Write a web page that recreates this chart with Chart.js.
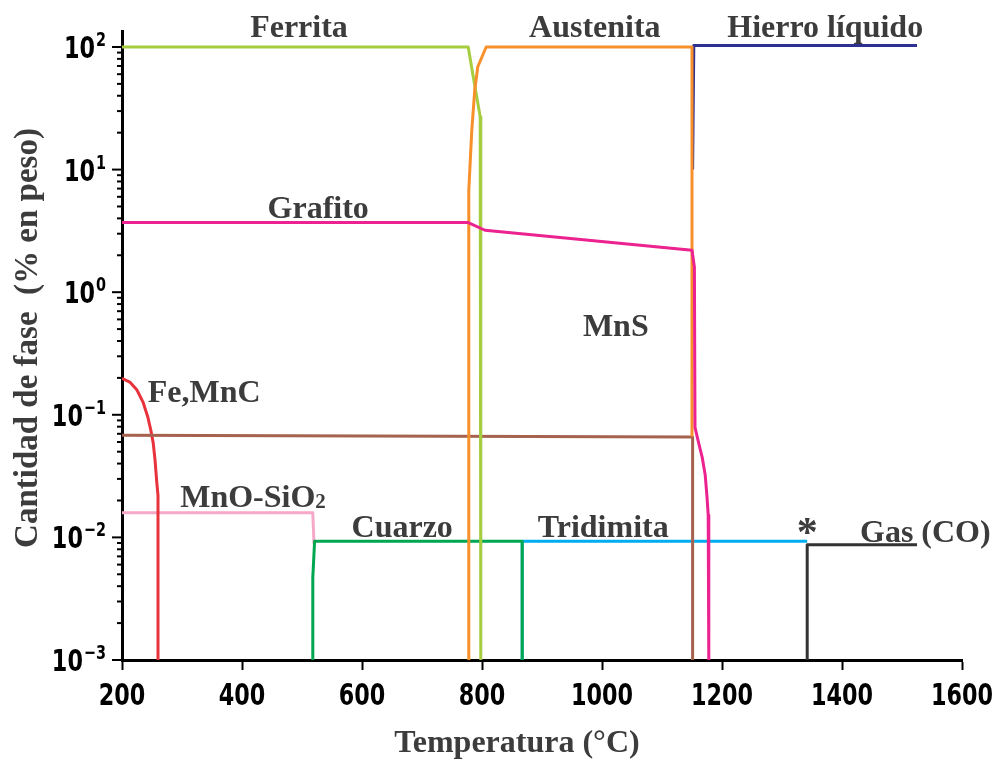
<!DOCTYPE html>
<html>
<head>
<meta charset="utf-8">
<script src="https://cdn.jsdelivr.net/npm/chart.js@4.4.0/dist/chart.umd.min.js"></script>
<style>
  html, body { margin: 0; padding: 0; background: #fff; }
</style>
</head>
<body>
<canvas id="chart" width="997" height="761"></canvas>
<script>
// Fases vs temperatura (°C), cantidad en % en peso
var ferritaT = [200, 777, 786, 797, 798];
var ferritaY = [100, 100, 55, 27, 0.001];

var austenitaT = [778, 778, 783, 788, 793, 807, 1150, 1150];
var austenitaY = [0.001, 6.8, 21, 45, 69, 100, 100, 0.068];

var hierroT = [1151, 1153, 1525];
var hierroY = [10, 103, 103];

var grafitoT = [200, 777, 805, 1150, 1154, 1155, 1160, 1167, 1172, 1175, 1177, 1178, 1178];
var grafitoY = [3.7, 3.7, 3.2, 2.2, 1.6, 0.079, 0.062, 0.045, 0.0323, 0.0214, 0.0152, 0.0115, 0.001];

var mnsT = [200, 1151, 1151];
var mnsY = [0.068, 0.066, 0.001];

var fe3T = [200, 213, 225, 235, 243, 248, 252, 255, 258, 260, 260];
var fe3Y = [0.198, 0.185, 0.159, 0.127, 0.096, 0.075, 0.059, 0.043, 0.028, 0.022, 0.001];

var mnoT = [200, 518, 520];
var mnoY = [0.0159, 0.0159, 0.0088];

var cuarzoT = [518, 518, 521, 867, 867];
var cuarzoY = [0.001, 0.0047, 0.0093, 0.0093, 0.001];

var tridimitaT = [867, 867, 1342];
var tridimitaY = [0.001, 0.0093, 0.0093];

var gasT = [1342, 1342, 1525];
var gasY = [0.001, 0.0087, 0.0087];

// ticks
var xTicks = [200, 400, 600, 800, 1000, 1200, 1400, 1600];
var xLabels = ['200', '400', '600', '800', '1000', '1200', '1400', '1600'];
var yMajor = [0.001, 0.01, 0.1, 1, 10, 100];
var yBase = ['10', '10', '10', '10', '10', '10'];
var yExp = ['\u22123', '\u22122', '\u22121', '0', '1', '2'];
var yMinor = [2, 3, 4, 5, 6, 7, 8, 9];

// text labels placed at (temperature, value)
var labels = [
    { text: 'Ferrita', t: 495, v: 120, align: 'center' },
    { text: 'Austenita', t: 988, v: 120, align: 'center' },
    { text: 'Hierro líquido', t: 1372, v: 120, align: 'center' },
    { text: 'Grafito', t: 527, v: 4.0, align: 'center' },
    { text: 'MnS', t: 1023, v: 0.44, align: 'center' },
    { text: 'Fe,MnC', t: 243, v: 0.127, align: 'left' },
    { text: 'MnO-SiO', sub: '2', t: 297, v: 0.0177, align: 'left' },
    { text: 'Cuarzo', t: 667, v: 0.0100, align: 'center' },
    { text: 'Tridimita', t: 1002, v: 0.0100, align: 'center' },
    { text: '*', t: 1342, v: 0.0085, align: 'center', big: true },
    { text: 'Gas (CO)', t: 1430, v: 0.0092, align: 'left' }
];

var LABEL_FONT = 'bold 32px "Liberation Serif", "Times New Roman", serif';
var TICK_FONT = 'bold 31px "DejaVu Sans Condensed", "DejaVu Sans", sans-serif';
var EXP_FONT = 'bold 20px "DejaVu Sans Condensed", "DejaVu Sans", sans-serif';
var SQUEEZE = 0.8;

function pts(ts, ys) {
    return ts.map(function(t, i) { return { x: t, y: ys[i] }; });
}

function line(name, ts, ys, color) {
    return {
        label: name,
        data: pts(ts, ys),
        borderColor: color,
        backgroundColor: color,
        borderWidth: 3,
        pointRadius: 0,
        tension: 0,
        fill: false,
        borderJoinStyle: 'round'
    };
}

var yTickValues = [];
yMajor.forEach(function(d, i) {
    yTickValues.push(d);
    if (i < yMajor.length - 1) {
        yMinor.forEach(function(m) { yTickValues.push(m * d); });
    }
});

// narrow bold sans for the tick numbers
function narrowText(ctx, text, font, x, y) {
    ctx.save();
    ctx.translate(x, y);
    ctx.scale(SQUEEZE, 1);
    ctx.font = font;
    ctx.textAlign = 'left';
    ctx.fillText(text, 0, 0);
    ctx.restore();
}

function narrowWidth(ctx, text, font) {
    ctx.font = font;
    return ctx.measureText(text).width * SQUEEZE;
}

// y tick marks (long major, short minor) and tick numbers
var axisTicks = {
    id: 'axisTicks',
    afterDraw: function(chart) {
        var xs = chart.scales.x, ys = chart.scales.y;
        var ctx = chart.ctx;
        var left = chart.chartArea.left, bottom = chart.chartArea.bottom;
        ctx.save();
        ctx.strokeStyle = '#000';
        ctx.fillStyle = '#000';
        ctx.lineWidth = 2;
        ys.ticks.forEach(function(tk) {
            var py = ys.getPixelForValue(tk.value);
            var i = yMajor.indexOf(tk.value);
            var len = i >= 0 ? 10 : 5;
            ctx.beginPath();
            ctx.moveTo(left - len, py);
            ctx.lineTo(left, py);
            ctx.stroke();
            if (i >= 0) {
                var wb = narrowWidth(ctx, yBase[i], TICK_FONT);
                var we = narrowWidth(ctx, yExp[i], EXP_FONT);
                var x0 = left - 17 - wb - we;
                narrowText(ctx, yBase[i], TICK_FONT, x0, py + 11);
                narrowText(ctx, yExp[i], EXP_FONT, x0 + wb + 1, py - 1);
            }
        });
        xs.ticks.forEach(function(tk) {
            var i = xTicks.indexOf(tk.value);
            if (i < 0) return;
            var px = xs.getPixelForValue(tk.value);
            var w = narrowWidth(ctx, xLabels[i], TICK_FONT);
            narrowText(ctx, xLabels[i], TICK_FONT, px - w / 2, bottom + 45);
        });
        ctx.restore();
    }
};

// phase names and axis titles
var textLabels = {
    id: 'textLabels',
    afterDatasetsDraw: function(chart) {
        var ctx = chart.ctx;
        var xs = chart.scales.x, ys = chart.scales.y;
        ctx.save();
        ctx.fillStyle = '#3c3c3c';
        ctx.textBaseline = 'alphabetic';
        labels.forEach(function(l) {
            var px = xs.getPixelForValue(l.t);
            var py = ys.getPixelForValue(l.v);
            ctx.font = l.big ? 'bold 42px "Liberation Serif", serif' : LABEL_FONT;
            if (l.sub) {
                var w1 = ctx.measureText(l.text).width;
                ctx.textAlign = 'left';
                ctx.fillText(l.text, px, py);
                ctx.font = 'bold 21px "Liberation Serif", serif';
                ctx.fillText(l.sub, px + w1, py + 1);
            } else {
                ctx.textAlign = l.align;
                ctx.fillText(l.text, px, py);
            }
        });

        // axis titles
        ctx.font = LABEL_FONT;
        ctx.textAlign = 'center';
        ctx.textBaseline = 'middle';
        ctx.fillText('Temperatura (°C)', 517, 744);
        ctx.font = 'bold 33px "Liberation Serif", "Times New Roman", serif';
        ctx.translate(28, 338);
        ctx.rotate(-Math.PI / 2);
        ctx.fillText('Cantidad de fase  (% en peso)', 0, 0);
        ctx.restore();
    }
};

new Chart(document.getElementById('chart'), {
    type: 'line',
    data: {
        datasets: [
            line('Grafito', grafitoT, grafitoY, '#eb2290'),
            line('Austenita', austenitaT, austenitaY, '#f7902a'),
            line('Ferrita', ferritaT, ferritaY, '#a5cd3f'),
            line('Hierro líquido', hierroT, hierroY, '#2e3192'),
            line('MnS', mnsT, mnsY, '#a6624f'),
            line('Fe,MnC', fe3T, fe3Y, '#e8323c'),
            line('Cuarzo', cuarzoT, cuarzoY, '#00a650'),
            line('MnO-SiO2', mnoT, mnoY, '#f6a8c8'),
            line('Tridimita', tridimitaT, tridimitaY, '#00aeef'),
            line('Gas (CO)', gasT, gasY, '#333333')
        ]
    },
    options: {
        responsive: false,
        animation: false,
        layout: { padding: { top: 31, right: 35, left: 0, bottom: 0 } },
        plugins: {
            legend: { display: false },
            tooltip: { enabled: false }
        },
        scales: {
            x: {
                type: 'linear',
                min: 200,
                max: 1600,
                afterBuildTicks: function(scale) {
                    scale.ticks = xTicks.map(function(v) { return { value: v }; });
                },
                afterFit: function(scale) { scale.height = 101; },
                grid: {
                    display: true,
                    drawOnChartArea: false,
                    drawTicks: true,
                    tickLength: 10,
                    tickWidth: 2,
                    color: '#000'
                },
                border: { display: true, color: '#000', width: 3 },
                ticks: { display: false }
            },
            y: {
                type: 'logarithmic',
                min: 0.001,
                max: 135,
                afterBuildTicks: function(scale) {
                    scale.ticks = yTickValues.map(function(v) { return { value: v }; });
                },
                afterFit: function(scale) { scale.width = 122; },
                grid: { display: false, drawTicks: false },
                border: { display: true, color: '#000', width: 3 },
                ticks: { display: false }
            }
        }
    },
    plugins: [axisTicks, textLabels]
});
</script>
</body>
</html>
